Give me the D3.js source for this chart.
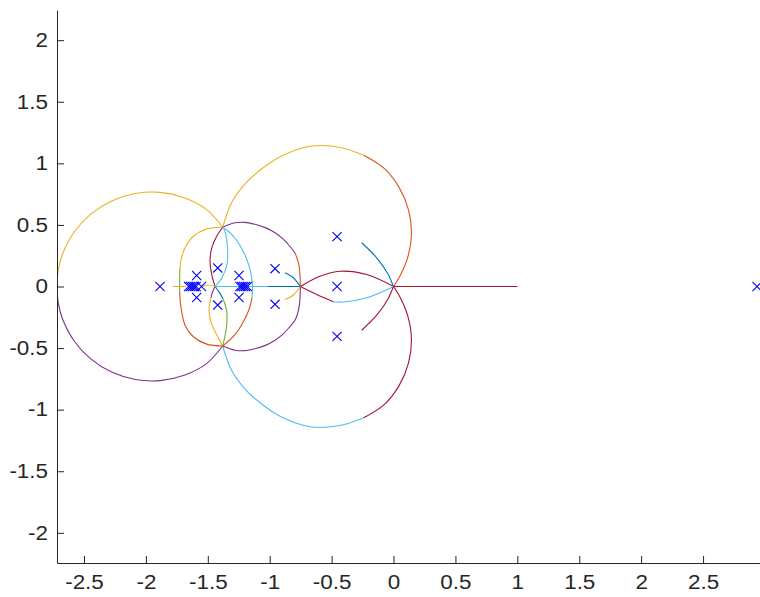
<!DOCTYPE html>
<html>
<head>
<meta charset="utf-8">
<script src="https://cdn.jsdelivr.net/npm/d3@7"></script>
<style>
  html, body { margin: 0; padding: 0; background: #ffffff; }
  svg { display: block; font-family: "Liberation Sans", Arial, Helvetica, sans-serif; }
</style>
</head>
<body>
<svg id="chart" width="760" height="597"></svg>
<script>
// Axis limits and ticks (real axis horizontal, imaginary axis vertical)
const xLimits = [-2.718, 2.96];
const yLimits = [-2.245, 2.245];
const xTickValues = [-2.5, -2, -1.5, -1, -0.5, 0, 0.5, 1, 1.5, 2, 2.5];
const yTickValues = [-2, -1.5, -1, -0.5, 0, 0.5, 1, 1.5, 2];

// Open-loop poles [real, imag]
const poles = [
  [2.936, 0],
  [-0.456, 0.405], [-0.456, 0], [-0.456, -0.405],
  [-0.957, 0.145], [-0.957, -0.145],
  [-1.248, 0.09], [-1.248, -0.09],
  [-1.420, 0.151], [-1.420, -0.151],
  [-1.590, 0.09], [-1.590, -0.09],
  [-1.886, 0], [-1.551, 0],
  [-1.655, 0], [-1.640, 0], [-1.625, 0], [-1.610, 0], [-1.595, 0],
  [-1.240, 0], [-1.225, 0], [-1.210, 0], [-1.195, 0], [-1.180, 0]
];

// Locus branch pieces, each a list of [real, imag] points
const outerLeftUpper = [[-1.380, 0.481], [-1.513, 0.628], [-1.691, 0.721], [-1.886, 0.764], [-2.086, 0.755], [-2.277, 0.695], [-2.446, 0.588], [-2.581, 0.440], [-2.674, 0.262], [-2.708, 0.133], [-2.718, 0]];
const outerLeftLower = [[-1.380, -0.483], [-1.513, -0.628], [-1.691, -0.721], [-1.886, -0.764], [-2.086, -0.755], [-2.277, -0.695], [-2.446, -0.588], [-2.581, -0.440], [-2.674, -0.262], [-2.708, -0.133], [-2.718, 0]];

const outerRightUpperA = [[-1.380, 0.481], [-1.305, 0.687], [-1.190, 0.843], [-1.050, 0.966], [-0.896, 1.064], [-0.723, 1.129], [-0.600, 1.145], [-0.414, 1.125], [-0.240, 1.066]];
const outerRightUpperB = [[-0.240, 1.066], [-0.073, 0.957], [0.046, 0.803], [0.121, 0.623], [0.145, 0.430], [0.115, 0.238], [0.057, 0.095], [0, 0]];
const outerRightLowerA = [[-1.380, -0.483], [-1.305, -0.687], [-1.190, -0.843], [-1.050, -0.966], [-0.896, -1.064], [-0.723, -1.129], [-0.600, -1.145], [-0.414, -1.125], [-0.240, -1.066]];
const outerRightLowerB = [[-0.240, -1.066], [-0.073, -0.957], [0.046, -0.803], [0.121, -0.623], [0.145, -0.430], [0.115, -0.238], [0.057, -0.095], [0, 0]];

const midUpperA = [[-1.380, 0.481], [-1.280, 0.517], [-1.200, 0.521], [-1.119, 0.505], [-1.035, 0.478], [-0.957, 0.436], [-0.895, 0.388], [-0.850, 0.341], [-0.796, 0.274]];
const midUpperB = [[-0.796, 0.274], [-0.765, 0.180], [-0.755, 0.090], [-0.753, 0]];
const midLower = [[-0.753, 0], [-0.755, -0.090], [-0.765, -0.180], [-0.796, -0.274], [-0.850, -0.341], [-0.895, -0.388], [-0.957, -0.436], [-1.035, -0.478], [-1.119, -0.505], [-1.200, -0.521], [-1.280, -0.517], [-1.380, -0.483]];

const smallLeftUpper = [[-1.380, 0.481], [-1.509, 0.468], [-1.617, 0.408], [-1.684, 0.314], [-1.716, 0.219], [-1.725, 0.152]];
const smallLeftMid = [[-1.725, 0.152], [-1.727, 0.075], [-1.727, -0.045]];
const smallLeftLower = [[-1.727, -0.045], [-1.719, -0.152], [-1.684, -0.314], [-1.617, -0.408], [-1.509, -0.468], [-1.380, -0.483]];

const lensUpperLeft = [[-1.380, 0.481], [-1.428, 0.408], [-1.468, 0.314], [-1.482, 0.205], [-1.468, 0.097], [-1.441, 0]];
const lensUpperRight = [[-1.380, 0.481], [-1.361, 0.446], [-1.341, 0.317], [-1.345, 0.179], [-1.385, 0.073], [-1.441, 0]];
const lensLowerLeftA = [[-1.441, 0], [-1.462, -0.045], [-1.474, -0.092]];
const lensLowerLeftB = [[-1.474, -0.092], [-1.490, -0.200], [-1.468, -0.308], [-1.415, -0.416], [-1.380, -0.483]];
const lensLowerRightA = [[-1.441, 0], [-1.405, -0.050], [-1.375, -0.106]];
const lensLowerRightB = [[-1.375, -0.106], [-1.347, -0.200], [-1.347, -0.308], [-1.367, -0.430], [-1.380, -0.483]];

const innerRightUpper = [[-1.380, 0.481], [-1.305, 0.422], [-1.240, 0.333], [-1.191, 0.235], [-1.155, 0.122], [-1.139, 0], [-1.143, -0.089]];
const innerRightLower = [[-1.143, -0.089], [-1.167, -0.187], [-1.216, -0.292], [-1.280, -0.390], [-1.380, -0.483]];

const axisLeftStub = [[-1.781, 0], [-1.676, 0]];
const axisMidStub = [[-1.551, 0], [-1.500, 0.012], [-1.441, 0]];
const axisSpanA = [[-1.441, 0], [-1.014, 0]];
const axisSpanB = [[-1.014, 0], [-0.753, 0]];
const axisRightRay = [[0, 0], [1, 0]];

const rightLensUpper = [[-0.753, 0], [-0.594, 0.084], [-0.432, 0.124], [-0.216, 0.097], [0, 0]];
const rightLensLowerA = [[-0.753, 0], [-0.620, -0.065], [-0.486, -0.124]];
const rightLensLowerB = [[-0.486, -0.124], [-0.405, -0.126], [-0.216, -0.092], [0, 0]];
const arcToOriginUpper = [[-0.257, 0.355], [-0.136, 0.233], [-0.042, 0.097], [0, 0]];
const arcToOriginLower = [[-0.257, -0.355], [-0.136, -0.233], [-0.042, -0.097], [0, 0]];
const arcToBreakUpper = [[-0.876, 0.111], [-0.809, 0.071], [-0.753, 0]];
const arcToBreakLower = [[-0.876, -0.106], [-0.809, -0.069], [-0.753, 0]];

// Line colours (default MATLAB colour order)
const palette = {
  blue: "#0072BD", orange: "#D95319", yellow: "#EDB120", purple: "#7E2F8E",
  green: "#77AC30", cyan: "#4DBEEE", red: "#A2142F"
};

const pieces = [
  [outerLeftUpper, "yellow"], [outerLeftLower, "purple"],
  [outerRightUpperA, "yellow"], [outerRightUpperB, "orange"],
  [outerRightLowerA, "cyan"], [outerRightLowerB, "red"],
  [midUpperA, "purple"], [midUpperB, "orange"], [midLower, "purple"],
  [smallLeftUpper, "yellow"], [smallLeftMid, "green"], [smallLeftLower, "orange"],
  [lensUpperLeft, "red"], [lensUpperRight, "cyan"],
  [lensLowerLeftA, "purple"], [lensLowerLeftB, "yellow"],
  [lensLowerRightA, "blue"], [lensLowerRightB, "green"],
  [innerRightUpper, "cyan"], [innerRightLower, "orange"],
  [axisLeftStub, "yellow"], [axisMidStub, "yellow"],
  [axisSpanA, "cyan"], [axisSpanB, "blue"], [axisRightRay, "red"],
  [rightLensUpper, "red"], [rightLensLowerA, "red"], [rightLensLowerB, "cyan"],
  [arcToOriginUpper, "blue"], [arcToOriginLower, "red"],
  [arcToBreakUpper, "blue"], [arcToBreakLower, "yellow"]
];

const svg = d3.select("#chart");
const plot = { left: 57, right: 760, top: 10, bottom: 563 };

const x = d3.scaleLinear().domain(xLimits).range([plot.left, plot.right]);
const y = d3.scaleLinear().domain(yLimits).range([plot.bottom, plot.top]);

svg.append("defs").append("clipPath").attr("id", "plot-clip")
  .append("rect")
  .attr("x", plot.left).attr("y", plot.top)
  .attr("width", plot.right - plot.left).attr("height", plot.bottom - plot.top);

const line = d3.line()
  .x(d => x(d[0]))
  .y(d => y(d[1]))
  .curve(d3.curveCatmullRom.alpha(0.5));

const locus = svg.append("g").attr("clip-path", "url(#plot-clip)");
locus.selectAll("path.branch")
  .data(pieces)
  .join("path")
  .attr("class", "branch")
  .attr("d", d => line(d[0]))
  .attr("fill", "none")
  .attr("stroke", d => palette[d[1]])
  .attr("stroke-width", 1.1);

// Pole markers
const m = 4.6;
const markers = svg.append("g");
markers.selectAll("path.pole")
  .data(poles)
  .join("path")
  .attr("class", "pole")
  .attr("d", d => {
    const cx = x(d[0]), cy = y(d[1]);
    return `M${cx - m},${cy - m}L${cx + m},${cy + m}M${cx - m},${cy + m}L${cx + m},${cy - m}`;
  })
  .attr("fill", "none")
  .attr("stroke", "#0000FF")
  .attr("stroke-width", 1.1);

// Axes with inward ticks
const axisColor = "#262626";
const fmt = d => String(d);
const stretch = 1.15;

const gx = svg.append("g")
  .attr("transform", `translate(0,${plot.bottom})`)
  .call(d3.axisBottom(x).tickValues(xTickValues).tickFormat(fmt)
    .tickSizeInner(-7).tickSizeOuter(0).tickPadding(12));
const gy = svg.append("g")
  .attr("transform", `translate(${plot.left},0)`)
  .call(d3.axisLeft(y).tickValues(yTickValues).tickFormat(fmt)
    .tickSizeInner(-7).tickSizeOuter(0).tickPadding(9 / stretch));

[gx, gy].forEach(g => {
  g.select(".domain").attr("stroke", axisColor).attr("stroke-width", 1);
  g.selectAll(".tick line").attr("stroke", axisColor).attr("stroke-width", 1);
  g.selectAll(".tick text")
    .attr("fill", axisColor)
    .attr("transform", `scale(${stretch},1)`)
    .style("font-size", "19.5px")
    .style("font-family", "\"Liberation Sans\", Arial, Helvetica, sans-serif");
});
</script>
</body>
</html>
